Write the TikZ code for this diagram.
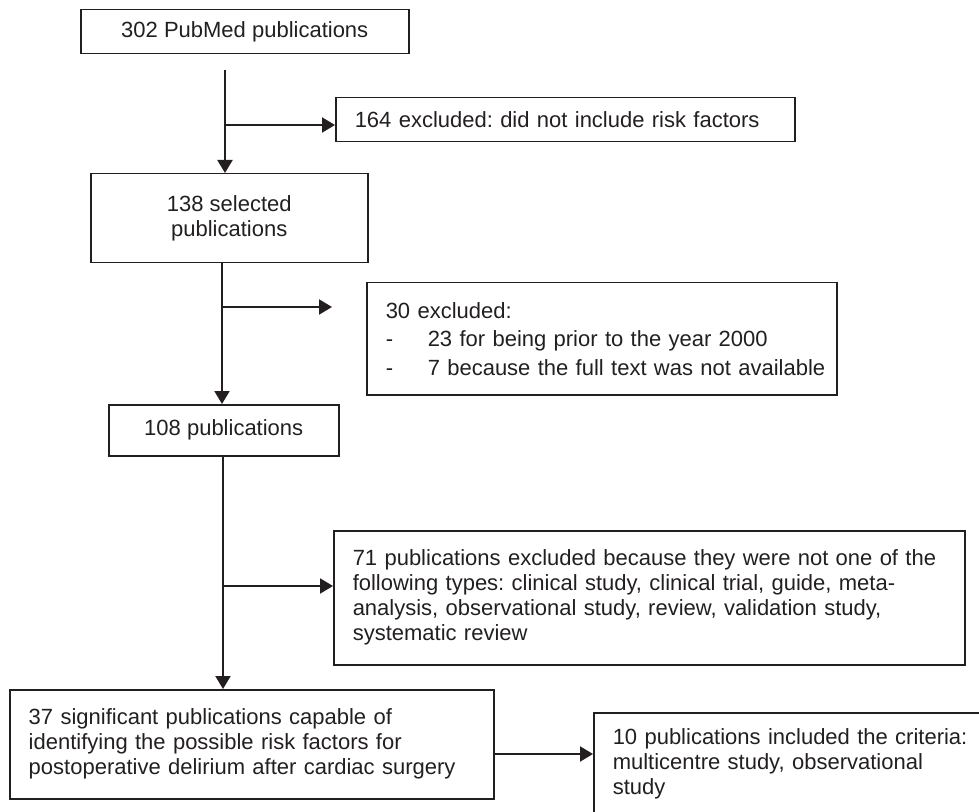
\documentclass[tikz,border=0pt]{standalone}
\usepackage{fontspec}
\setmainfont{Liberation Sans}
\usepackage{xcolor}
\usepackage{tikz}
\usetikzlibrary{arrows.meta,positioning}
\definecolor{inkC}{HTML}{231F20}
\frenchspacing

\begin{document}
\begin{tikzpicture}[
    x=0.5pt, y=-0.5pt,
    box/.style={draw=inkC, line width=0.75pt, anchor=north west, text=inkC,
                inner xsep=9.5pt, inner ysep=0pt,
                font=\fontsize{11}{12.5}\selectfont},
    arrow/.style={-{Triangle[length=6.5pt, width=7.5pt]}, line width=1pt, draw=inkC}
]
\useasboundingbox (0,0) rectangle (979,812);
\clip (0,0) rectangle (979,812);

\node[box, align=center, minimum width=164pt, minimum height=22pt] (pubmed) at (80,9) {302 PubMed publications};
\node[box, align=center, minimum width=138.5pt, minimum height=44.5pt] (selected) at (90,173) {138 selected\\publications};
\node[box, align=left, text width=210.5pt, minimum height=22pt] (norisk) at (335,97) {164 excluded: did not include risk factors};
\node[box, align=left, text width=216pt, minimum height=56pt] (early) at (366,282)
    {30 excluded:\\[1.75pt]
     \makebox[21pt][l]{-}23 for being prior to the year 2000\\[1.75pt]
     \mbox{\makebox[21pt][l]{-}7 because the full text was not available}};
\node[box, align=center, minimum width=115pt, minimum height=25.5pt] (kept) at (108,404) {108 publications};
\node[box, align=left, text width=296.5pt, minimum height=67pt] (wrongtype) at (333,530)
    {71 publications excluded because they were not one of the\\
     following types: clinical study, clinical trial, guide, meta-\\
     analysis, observational study, review, validation study,\\
     systematic review};
\node[box, align=left, text width=223pt, minimum height=54.5pt] (signif) at (9,689)
    {37 significant publications capable of\\
     identifying the possible risk factors for\\
     postoperative delirium after cardiac surgery};
\node[box, align=left, text width=191pt, minimum height=51pt] (multi) at (593,712)
    {10 publications included the criteria:\\
     multicentre study, observational\\
     study};

% junctions on the main line
\coordinate (j1) at (225,125);
\coordinate (j2) at (222,307);
\coordinate (j3) at (223,586);
\coordinate (j4) at (0,754);

\draw[arrow, shorten <=8pt] (pubmed.south -| j1) -- (selected.north -| j1);
\draw[arrow] (j1) -- (j1 -| norisk.west);
\draw[arrow] (selected.south -| j2) -- (kept.north -| j2);
\draw[arrow, shorten >=17pt] (j2) -- (j2 -| early.west);
\draw[arrow] (kept.south -| j3) -- (signif.north -| j3);
\draw[arrow] (j3) -- (j3 -| wrongtype.west);
\draw[arrow] (signif.east |- j4) -- (multi.west |- j4);
\end{tikzpicture}
\end{document}
